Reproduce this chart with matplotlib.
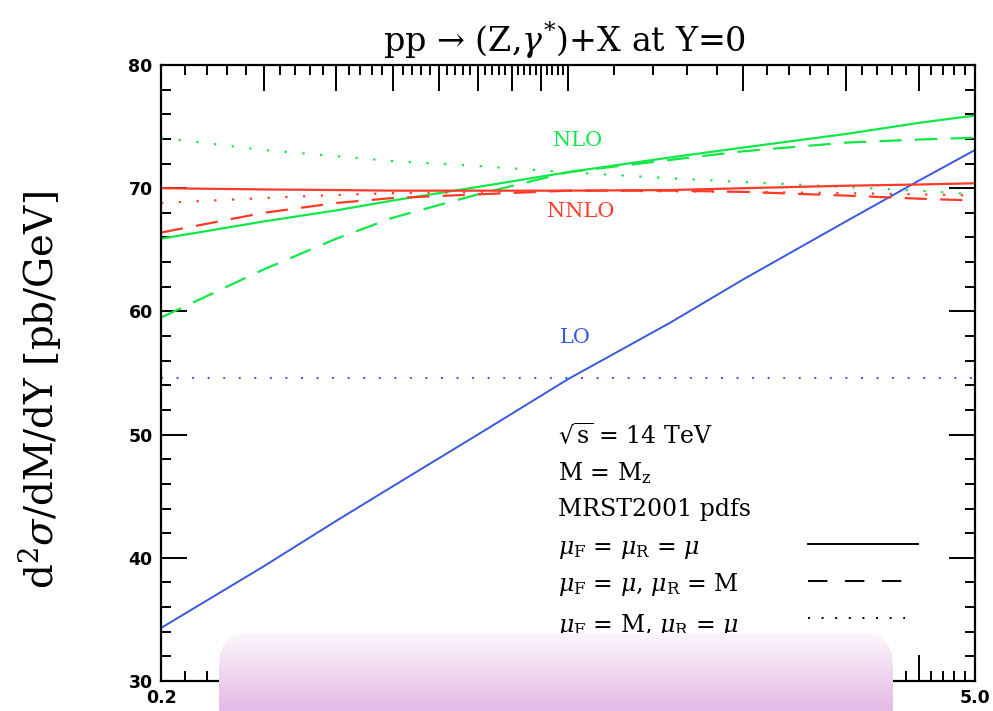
import matplotlib
matplotlib.use('Agg')
import matplotlib.pyplot as plt
import numpy as np
from matplotlib.patches import FancyBboxPatch
from matplotlib.ticker import FixedLocator, MultipleLocator, NullFormatter

plt.rcParams['font.family'] = ['DejaVu Serif']
plt.rcParams['mathtext.fontset'] = 'dejavuserif'

mu = [0.2, 0.3, 0.4, 0.5, 0.7, 1.0, 1.5, 2.0, 3.0, 4.0, 5.0]

lo_solid = [34.3, 39.3, 43.0, 45.8, 50.0, 54.5, 59.1, 62.6, 67.3, 70.6, 73.1]
lo_dotted = [54.6, 54.6, 54.6, 54.6, 54.6, 54.6, 54.6, 54.6, 54.6, 54.6, 54.6]

nlo_solid = [65.9, 67.3, 68.2, 69.0, 70.1, 71.3, 72.5, 73.3, 74.4, 75.3, 75.9]
nlo_dashed = [59.5, 63.4, 65.9, 67.6, 69.5, 71.3, 72.3, 73.0, 73.7, 73.95, 74.1]
nlo_dotted = [74.1, 73.1, 72.6, 72.2, 71.8, 71.3, 70.8, 70.5, 70.1, 69.8, 69.5]

nnlo_solid = [70.0, 69.9, 69.85, 69.8, 69.8, 69.8, 69.85, 70.0, 70.2, 70.3, 70.4]
nnlo_dashed = [66.4, 68.0, 68.8, 69.2, 69.5, 69.8, 69.8, 69.7, 69.4, 69.15, 69.0]
nnlo_dotted = [68.8, 69.2, 69.45, 69.6, 69.7, 69.8, 69.75, 69.7, 69.6, 69.5, 69.4]

x_major = [0.2, 0.3, 0.4, 0.5, 0.6, 0.7, 0.8, 0.9, 1.0, 2.0, 3.0, 4.0, 5.0]
x_labels = {0.2: '0.2', 5.0: '5.0'}
info_lines = [r'$\sqrt{\rm s}$ = 14 TeV', r'M = M$_{\rm z}$', 'MRST2001 pdfs']
key_lines = [r'$\mu_{\rm F}$ = $\mu_{\rm R}$ = $\mu$',
             r'$\mu_{\rm F}$ = $\mu$, $\mu_{\rm R}$ = M',
             r'$\mu_{\rm F}$ = M, $\mu_{\rm R}$ = $\mu$']

green = '#10e848'
red = '#ff3a28'
blue = '#3858e0'
dash = (0, (10, 6))
dot = (0, (1, 7))

fig = plt.figure(figsize=(9.93, 7.11), dpi=100)
ax = fig.add_axes([161/993, 1 - 681/711, 814/993, 616/711])

ax.plot(mu, lo_solid, color=blue, lw=1.4)
ax.plot(mu, lo_dotted, color=blue, lw=1.4, ls=dot)
ax.plot(mu, nlo_solid, color=green, lw=1.6)
ax.plot(mu, nlo_dashed, color=green, lw=1.6, ls=dash)
ax.plot(mu, nlo_dotted, color=green, lw=1.6, ls=dot)
ax.plot(mu, nnlo_solid, color=red, lw=1.6)
ax.plot(mu, nnlo_dashed, color=red, lw=1.6, ls=dash)
ax.plot(mu, nnlo_dotted, color=red, lw=1.6, ls=dot)

ax.set_xscale('log')
ax.set_xlim(0.2, 5.0)
ax.set_ylim(30, 80)

minor = list(np.arange(0.22, 1.0, 0.02)) + list(np.arange(1.2, 5.0, 0.2))
ax.xaxis.set_major_locator(FixedLocator(x_major))
ax.xaxis.set_minor_locator(FixedLocator(minor))
ax.set_xticklabels([x_labels.get(v, '') for v in x_major])
ax.xaxis.set_minor_formatter(NullFormatter())
ax.yaxis.set_major_locator(MultipleLocator(10))
ax.yaxis.set_minor_locator(MultipleLocator(2))

ax.tick_params(which='both', direction='in', top=True, right=True, width=1.4, colors='black')
ax.tick_params(which='major', length=19)
ax.tick_params(which='minor', length=7)
ax.tick_params(axis='y', pad=6)
ax.tick_params(axis='x', pad=6)
for lab in ax.get_xticklabels() + ax.get_yticklabels():
    lab.set_fontfamily('DejaVu Sans')
    lab.set_fontweight('bold')
    lab.set_fontsize(12.5)
for s in ax.spines.values():
    s.set_linewidth(1.6)

ax.text(1.04, 73.9, 'NLO', color=green, fontsize=15, ha='center', va='center')
ax.text(1.05, 68.1, 'NNLO', color=red, fontsize=15, ha='center', va='center')
ax.text(1.03, 57.9, 'LO', color=blue, fontsize=15, ha='center', va='center')

for i, t in enumerate(info_lines):
    ax.text(0.488, 0.398 - i*0.06, t, transform=ax.transAxes, fontsize=17, va='center')
key_y = [0.214, 0.156, 0.09]
sample_y = [0.222, 0.162, 0.103]
key_end = [0.930, 0.914, 0.914]
key_ls = ['-', (0, (10, 9)), (0, (1, 6))]
for t, yy, sy, xe, ls in zip(key_lines, key_y, sample_y, key_end, key_ls):
    ax.text(0.488, yy, t, transform=ax.transAxes, fontsize=17, va='center')
    ax.plot([0.795, xe], [sy, sy], transform=ax.transAxes,
            color='black', lw=1.4, ls=ls)

fig.text(565/993, 1 - 40/711, r'pp → (Z,$\gamma^{*}$)+X at Y=0', fontsize=24,
         ha='center', va='center')
fig.text(40/993, 1 - 390/711, r'd$^{2}\sigma$/dM/dY [pb/GeV]', fontsize=28,
         rotation=90, ha='center', va='center')

# pink overlay box at the bottom
ov = fig.add_axes([0, 0, 1, 1], zorder=10)
ov.set_xlim(0, 993)
ov.set_ylim(711, 0)
ov.axis('off')
ov.patch.set_alpha(0)
grad = np.linspace(0, 1, 100)[:, None]
c_top = np.array([252, 246, 251]) / 255
c_bot = np.array([228, 186, 230]) / 255
img = c_top[None, None, :] * (1 - grad[..., None]) + c_bot[None, None, :] * grad[..., None]
img = np.repeat(img, 2, axis=1)
box = FancyBboxPatch((219, 633), 674, 140, boxstyle='round,pad=0,rounding_size=32',
                     facecolor='none', edgecolor='none')
ov.add_patch(box)
im = ov.imshow(img, extent=[219, 893, 711, 633], aspect='auto', interpolation='bilinear')
im.set_clip_path(box)

fig.savefig('out.png', dpi=100)
